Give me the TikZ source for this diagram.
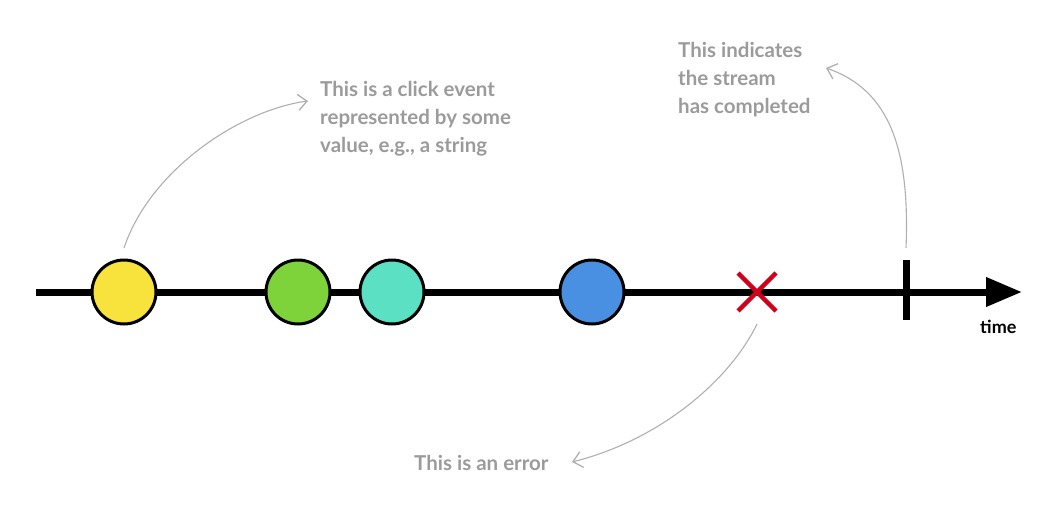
\documentclass[tikz,border=0pt]{standalone}
\usepackage{fontspec}
\setmainfont{Lato}
\usetikzlibrary{arrows.meta}
\definecolor{lblgray}{HTML}{9B9B9B}
\definecolor{cyellow}{HTML}{F7E33B}
\definecolor{cgreen}{HTML}{7ED23A}
\definecolor{cteal}{HTML}{5BE0C4}
\definecolor{cblue}{HTML}{4A90E2}
\definecolor{cred}{HTML}{D0021B}
\tikzset{
  marble/.style={circle, draw=black, line width=3pt, minimum size=64pt, inner sep=0pt},
  note/.style={text=lblgray, font=\bfseries\fontsize{20.5}{28}\selectfont, align=left, inner sep=0pt},
  pointer/.style={draw=lblgray!80, line width=1.1pt, -{Straight Barb[length=9pt,width=16pt,line width=1.3pt]}},
}
\begin{document}
\begin{tikzpicture}[x=1pt,y=-1pt]
\useasboundingbox (0,0) rectangle (1062,522);
\coordinate (start) at (36,292);
\coordinate (end) at (1022,292);
\draw[line width=7pt, -{Triangle[length=36pt,width=28pt]}] (start) -- (end);
\node[marble, fill=cyellow] (m1) at (124,292) {};
\node[marble, fill=cgreen] (m2) at (298,292) {};
\node[marble, fill=cteal] (m3) at (392,292) {};
\node[marble, fill=cblue] (m4) at (592,292) {};
\coordinate (err) at (757,292);
\draw[cred, line width=4.5pt] (738,273) -- (776,311) (738,311) -- (776,273);
\coordinate (tickT) at (906,260);
\coordinate (tickB) at (906,320);
\draw[line width=7pt] (tickT) -- (tickB);
\node[anchor=base east, font=\bfseries\fontsize{18}{20}\selectfont] (time) at (1020,333) {time};
\node[note, anchor=north west] (n1) at (320,81) {This is a click event\\represented by some\\value, e.g., a string};
\node[note, anchor=north west] (n2) at (678,42) {This indicates\\the stream\\has completed};
\node[note, anchor=north west] (n3) at (414,455) {This is an error};
\coordinate (a1s) at (124,248);
\coordinate (a1e) at (308,101);
\coordinate (a2s) at (906,248);
\coordinate (a2e) at (826,68);
\coordinate (a3s) at (757,324);
\coordinate (a3e) at (572,462);
\draw[pointer] (a1s) .. controls (150,170) and (240,110) .. (a1e);
\draw[pointer] (a2s) .. controls (910,150) and (890,90) .. (a2e);
\draw[pointer] (a3s) .. controls (730,380) and (660,440) .. (a3e);
\end{tikzpicture}
\end{document}
